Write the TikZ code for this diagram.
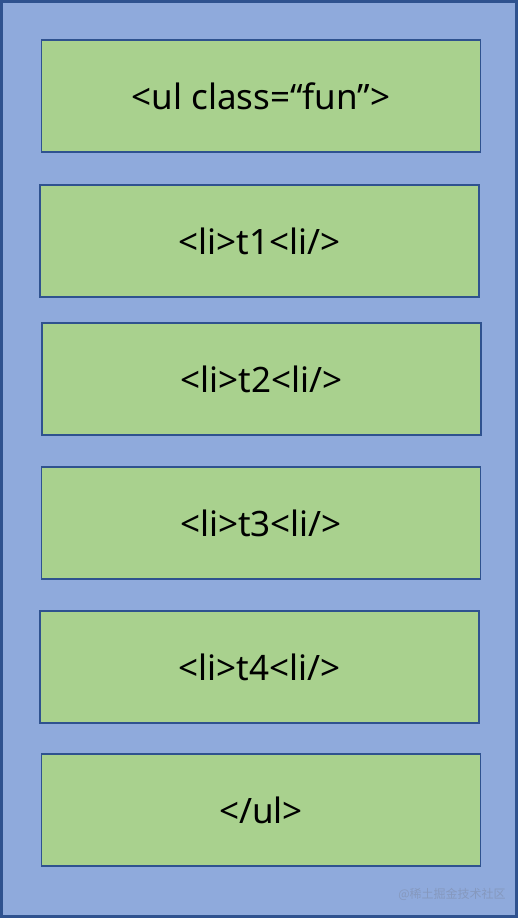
\documentclass[tikz,border=0pt]{standalone}
\usepackage{fontspec}
\setmainfont{Noto Sans}
\newfontfamily\cjk{Noto Sans CJK SC}
\usepackage{tikz}
\definecolor{listblue}{HTML}{8FAADC}
\definecolor{itemgreen}{HTML}{A9D18E}
\definecolor{edgeblue}{HTML}{2F528F}
\definecolor{markgray}{HTML}{7F8DAA}
\tikzstyle{tag}=[draw=edgeblue, line width=1.5pt, fill=itemgreen,
minimum width=439pt, minimum height=112pt, inner sep=0pt,
font=\fontsize{35}{42}\selectfont]

\begin{document}
\begin{tikzpicture}
	[x=1pt, y=-1pt]
	\useasboundingbox (0,0) rectangle (518,918);
	\node[draw=edgeblue, line width=3pt, fill=listblue, minimum width=515pt,
	minimum height=915pt, inner sep=0pt] (ul) at (259,459) {};
	\node[tag] (1) at (261,96) {<ul class=“fun”>};
	\node[tag] (2) at (259.5,241) {<li>t1<li/>};
	\node[tag] (3) at (261.5,379) {<li>t2<li/>};
	\node[tag] (4) at (261,523) {<li>t3<li/>};
	\node[tag] (5) at (259.5,667) {<li>t4<li/>};
	\node[tag] (6) at (261,810) {</ul>};
	\node[text=markgray, opacity=0.6, font=\cjk\fontsize{12}{14}\selectfont] (mark) at (452,894) {@稀土掘金技术社区};
\end{tikzpicture}
\end{document}
